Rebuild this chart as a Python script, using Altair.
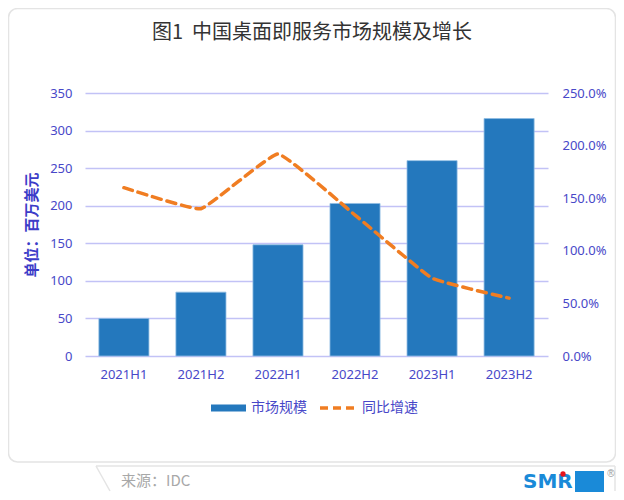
import altair as alt
import pandas as pd

periods = ["2021H1", "2021H2", "2022H1", "2022H2", "2023H1", "2023H2"]
market_size = [50, 85, 148, 203, 260, 316]
yoy_growth = [1.60, 1.40, 1.92, 1.34, 0.74, 0.55]
left_ticks = [0, 50, 100, 150, 200, 250, 300, 350]
right_ticks = [0, 0.5, 1.0, 1.5, 2.0, 2.5]

df = pd.DataFrame({"period": periods, "size": market_size, "growth": yoy_growth})
one = pd.DataFrame({"a": [0]})

FONT = "Noto Sans CJK SC"
LAB = "Noto Sans"
BLUE_TXT = "#4848c8"
GRID = "#c2c2f6"

xenc = alt.X("period:N", sort=periods, title=None,
             scale=alt.Scale(paddingInner=0.35, paddingOuter=0.18),
             axis=alt.Axis(labelAngle=0, ticks=False, domain=False, labelPadding=12,
                           labelColor=BLUE_TXT, labelFontSize=13, labelFont=LAB))

bars = alt.Chart(df).mark_bar(color="#2478bd", stroke="#8fbce3", strokeWidth=0.8).encode(
    x=xenc,
    y=alt.Y("size:Q", scale=alt.Scale(domain=[0, 350], nice=False),
            axis=alt.Axis(values=left_ticks, grid=True, gridColor=GRID, gridWidth=1.5,
                          domain=False, ticks=False, labelPadding=13,
                          labelColor=BLUE_TXT, labelFontSize=13, labelFont=LAB,
                          title="单位：百万美元", titleFont=FONT, titleFontSize=15,
                          titleFontWeight="bold", titleColor="#3c3cc8", titlePadding=10))
)

line = alt.Chart(df).mark_line(color="#f07d22", strokeWidth=3.5, strokeDash=[9, 6],
                               interpolate="cardinal", tension=0.7, strokeCap="round").encode(
    x=alt.X("period:N", sort=periods),
    y=alt.Y("growth:Q", scale=alt.Scale(domain=[0, 2.5], nice=False),
            axis=alt.Axis(orient="right", values=right_ticks, format=".1%", grid=False,
                          domain=False, ticks=False, labelPadding=14,
                          labelColor=BLUE_TXT, labelFontSize=13, labelFont=LAB, title=None))
)

base = alt.Chart(one)

card = base.mark_rect(filled=False, stroke="#e4e4e4", strokeWidth=1.5, cornerRadius=9).encode(
    x=alt.value(-76.5), x2=alt.value(530.5), y=alt.value(-84.5), y2=alt.value(369))

footer_top = base.mark_rule(color="#e4e4e4", strokeWidth=1.5).encode(
    x=alt.value(11), x2=alt.value(530), y=alt.value(373), y2=alt.value(373))
footer_slant = base.mark_rule(color="#e4e4e4", strokeWidth=1.5).encode(
    x=alt.value(11), x2=alt.value(25), y=alt.value(373), y2=alt.value(398))
footer_right = base.mark_rule(color="#e4e4e4", strokeWidth=1.5).encode(
    x=alt.value(530), x2=alt.value(530), y=alt.value(373), y2=alt.value(398))

title = base.mark_text(text="图1\u00a0\u00a0中国桌面即服务市场规模及增长", font=FONT, fontSize=20,
                       color="#333333", align="center", baseline="middle").encode(
    x=alt.value(227), y=alt.value(-60))

leg1 = base.mark_rule(color="#2478bd", strokeWidth=7).encode(
    x=alt.value(126), x2=alt.value(161), y=alt.value(315), y2=alt.value(315))
leg1t = base.mark_text(text="市场规模", font=FONT, fontSize=14, color=BLUE_TXT,
                       align="left", baseline="middle").encode(x=alt.value(166), y=alt.value(315))
leg2 = base.mark_rule(color="#f07d22", strokeWidth=3.5, strokeDash=[8, 5]).encode(
    x=alt.value(235), x2=alt.value(272), y=alt.value(315), y2=alt.value(315))
leg2t = base.mark_text(text="同比增速", font=FONT, fontSize=14, color=BLUE_TXT,
                       align="left", baseline="middle").encode(x=alt.value(277), y=alt.value(315))

source = base.mark_text(text="来源：IDC", font=FONT, fontSize=15, color="#a8a8a8",
                        align="left", baseline="middle").encode(x=alt.value(36), y=alt.value(388))

logo_txt = base.mark_text(text="SMR", font="DejaVu Sans", fontSize=20, fontWeight="bold",
                          color="#1a8ad8", align="left", baseline="middle").encode(
    x=alt.value(438), y=alt.value(389))
logo_box = base.mark_rect(color="#1a8ad8").encode(
    x=alt.value(490), x2=alt.value(519), y=alt.value(378), y2=alt.value(401))
logo_dot = base.mark_circle(color="#e8141c", size=28, opacity=1).encode(
    x=alt.value(478), y=alt.value(381))
logo_reg = base.mark_text(text="®", fontSize=10, color="#999999").encode(
    x=alt.value(526), y=alt.value(381))

chart = alt.layer(
    card, footer_top, footer_slant, footer_right,
    bars, line,
    title, leg1, leg1t, leg2, leg2t, source,
    logo_txt, logo_box, logo_dot, logo_reg
).resolve_scale(y="independent").properties(
    width=463, height=263,
    autosize=alt.AutoSizeParams(type="none"),
    padding={"left": 77, "top": 85, "right": 68, "bottom": 136},
    background="white"
).configure_view(stroke=None)

chart.save("out.html", embed_options={"renderer": "svg", "actions": False})
